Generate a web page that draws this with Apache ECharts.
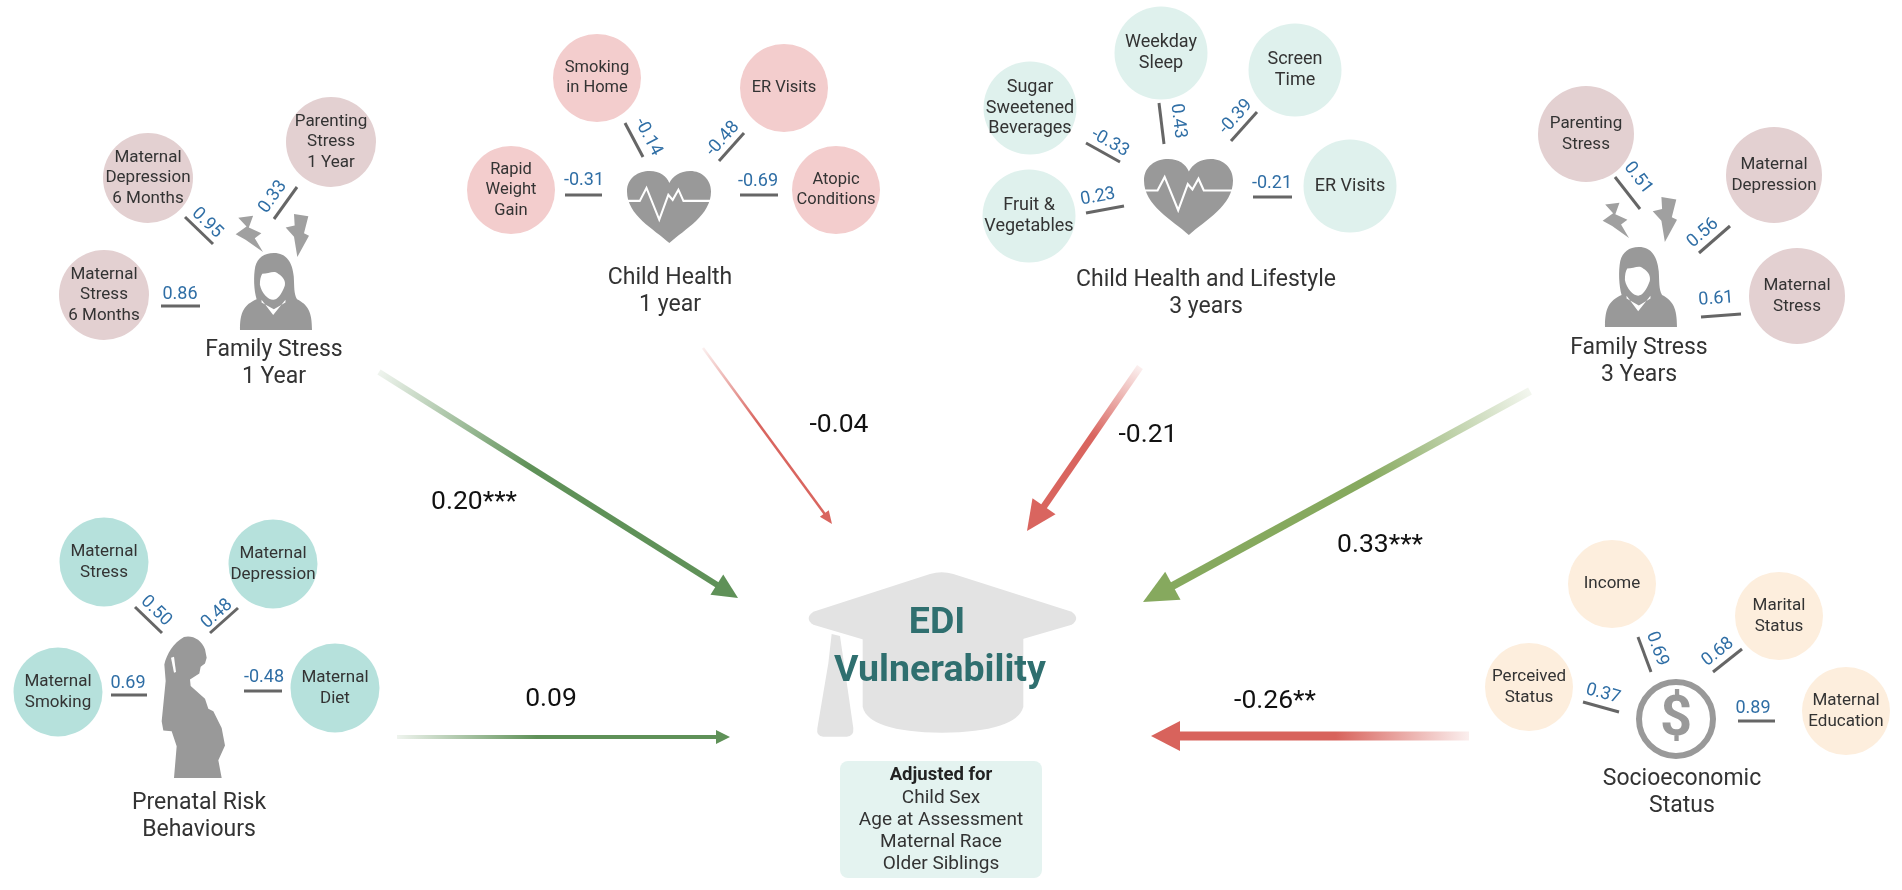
<!DOCTYPE html>
<html>
<head>
<meta charset="utf-8">
<title>EDI Vulnerability</title>
<script src="https://cdn.jsdelivr.net/npm/echarts@6/dist/echarts.min.js"></script>
<style>
    html, body { margin: 0; padding: 0; background: #fff; }
    #main { width: 1902px; height: 890px; }
</style>
</head>
<body>
<div id="main"></div>
<script>
// values
var familyStress1Items = ['Maternal\nStress\n6 Months', 'Maternal\nDepression\n6 Months', 'Parenting\nStress\n1 Year'];
var familyStress1Loadings = [0.86, 0.95, 0.33];
var childHealthItems = ['Rapid\nWeight\nGain', 'Smoking\nin Home', 'ER Visits', 'Atopic\nConditions'];
var childHealthLoadings = [-0.31, -0.14, -0.48, -0.69];
var lifestyleItems = ['Fruit &\nVegetables', 'Sugar\nSweetened\nBeverages', 'Weekday\nSleep', 'Screen\nTime', 'ER Visits'];
var lifestyleLoadings = [0.23, -0.33, 0.43, -0.39, -0.21];
var familyStress3Items = ['Parenting\nStress', 'Maternal\nDepression', 'Maternal\nStress'];
var familyStress3Loadings = [0.51, 0.56, 0.61];
var prenatalItems = ['Maternal\nStress', 'Maternal\nDepression', 'Maternal\nSmoking', 'Maternal\nDiet'];
var prenatalLoadings = [0.50, 0.48, 0.69, -0.48];
var sesItems = ['Income', 'Marital\nStatus', 'Perceived\nStatus', 'Maternal\nEducation'];
var sesLoadings = [0.69, 0.68, 0.37, 0.89];

var groupTitles = ['Family Stress\n1 Year', 'Child Health\n1 year', 'Child Health and Lifestyle\n3 years', 'Family Stress\n3 Years', 'Prenatal Risk\nBehaviours', 'Socioeconomic\nStatus'];
var pathLabels = ['0.20***', '-0.04', '-0.21', '0.33***', '0.09', '-0.26**'];
var adjustedFor = ['Child Sex', 'Age at Assessment', 'Maternal Race', 'Older Siblings'];

// layout of the diagram, in the 1902x890 axis space
var W = 1902, H = 890;
var groupLayouts = [
    {
        items: familyStress1Items, loadings: familyStress1Loadings, color: '#e3d0d1', size: 90, font: 17,
        nodes: [[104, 295], [148, 178], [331, 142]],
        ticks: [[161, 306, 200, 306], [185, 217, 213, 244], [274, 219, 297, 187]],
        texts: [[180, 294], [207, 223], [273, 197]]
    },
    {
        items: childHealthItems, loadings: childHealthLoadings, color: '#f3cdcd', size: 88, font: 16.5,
        nodes: [[511, 190], [597, 78], [784, 88], [836, 190]],
        ticks: [[565, 195, 602, 195], [625, 123, 643, 157], [744, 133, 719, 161], [740, 195, 778, 195]],
        texts: [[584, 180], [648, 137], [723, 139], [758, 181]]
    },
    {
        items: lifestyleItems, loadings: lifestyleLoadings, color: '#dff1ed', size: 93, font: 18,
        nodes: [[1029, 216], [1030, 108], [1161, 53], [1295, 70], [1350, 186]],
        ticks: [[1086, 213, 1124, 206], [1086, 143, 1120, 162], [1159, 103, 1164, 144], [1257, 112, 1231, 141], [1253, 197, 1292, 197]],
        texts: [[1098, 197], [1110, 143], [1178, 121], [1236, 117], [1272, 183]]
    },
    {
        items: familyStress3Items, loadings: familyStress3Loadings, color: '#e3d0d1', size: 96, font: 17,
        nodes: [[1586, 134], [1774, 175], [1797, 296]],
        ticks: [[1615, 177, 1640, 209], [1730, 226, 1699, 253], [1701, 317, 1741, 314]],
        texts: [[1638, 178], [1703, 233], [1716, 299]]
    },
    {
        items: prenatalItems, loadings: prenatalLoadings, color: '#b6e1dc', size: 89, font: 17,
        nodes: [[104, 562], [273, 564], [58, 692], [335, 688]],
        ticks: [[135, 607, 162, 633], [238, 608, 210, 633], [111, 695, 147, 695], [244, 691, 282, 691]],
        texts: [[156, 611], [217, 614], [128, 683], [264, 677]]
    },
    {
        items: sesItems, loadings: sesLoadings, color: '#fdeedd', size: 88, font: 17,
        nodes: [[1612, 584], [1779, 616], [1529, 687], [1846, 711]],
        ticks: [[1638, 637, 1651, 672], [1742, 649, 1713, 672], [1583, 702, 1619, 712], [1738, 721, 1775, 721]],
        texts: [[1657, 649], [1718, 652], [1603, 694], [1753, 708]]
    }
];
var titleSpots = [[274, 364], [670, 292], [1206, 294], [1639, 362], [199, 817], [1682, 793]];
var pathSpots = [[474, 502], [839, 425], [1148, 435], [1380, 545], [551, 699], [1275, 701]];
var ediSpots = [[937, 624, 0], [940, 672, 0]];

// from x, from y, to x, to y, width, head length, head width, colour
var arrows = [
    [379, 372, 738, 598, 6, 25, 24, '#5f9158'],
    [703, 348, 832, 524, 2.5, 13, 11, '#d9655f'],
    [1140, 367, 1027, 531, 7, 30, 28, '#d9655f'],
    [1530, 391, 1143, 602, 8, 34, 32, '#86a95e'],
    [397, 737, 730, 737, 4, 14, 14, '#5f9158'],
    [1469, 736, 1151, 736, 9, 29, 30, '#d8635c']
];

// icon outlines and the box each goes in
var iconPaths = {
    hat: { w: 930, h: 600, layers: [
        { d: 'M70,185 L420,72 Q455,62 490,72 L845,185 Q872,205 845,224 L490,328 Q455,336 420,328 L70,224 Q42,205 70,185 Z', fill: '#e3e3e3' },
        { d: 'M218,262 L700,262 L700,470 Q680,545 455,548 Q235,545 218,470 Z', fill: '#e3e3e3' },
        { d: 'M125,252 L150,258 L190,535 Q192,560 170,560 L100,560 Q78,560 82,535 L115,340 Z', fill: '#e3e3e3' }
    ] },
    person: { w: 217, h: 230, layers: [
        { d: 'M102,0 C140,0 158,28 162,70 C164,100 162,122 172,138 C205,155 217,175 217,230 L0,230 C0,175 12,155 50,138 C42,110 40,70 46,40 C53,15 72,0 102,0 Z', fill: '#999999' },
        { d: 'M67,62 C85,62 105,50 115,62 C132,72 138,85 135,98 C125,125 112,140 100,140 C85,140 65,120 60,95 C60,80 62,70 67,62 Z', fill: '#ffffff' },
        { d: 'M65,140 L100,185 L137,140 L137,148 L102,168 L65,148 Z', fill: '#ffffff' }
    ] },
    boltLeft: { w: 85, h: 112, layers: [
        { d: 'M10,8 L55,2 L42,38 L80,55 L60,70 L85,112 L32,75 L2,58 L35,35 Z', fill: '#a0a0a0' }
    ] },
    boltRight: { w: 75, h: 127, layers: [
        { d: 'M30,0 L73,7 L60,57 L75,64 L40,127 L30,67 L5,40 L32,34 Z', fill: '#a0a0a0' }
    ] },
    heart: { w: 250, h: 212, layers: [
        { d: 'M126,212 C80,170 0,130 0,60 C0,20 33,0 68,0 C98,0 118,15 126,35 C136,15 158,0 188,0 C223,0 250,25 250,60 C250,130 173,170 126,212 Z', fill: '#999999' },
        { d: 'M0,88 L38,88 L58,50 L96,143 L123,70 L136,85 L153,55 L168,88 L250,88', stroke: '#ffffff', width: 6 }
    ] },
    pregnant: { w: 195, h: 425, layers: [
        { d: 'M72,3 C95,-4 125,10 135,40 L140,65 L135,82 L122,92 L118,112 L90,130 L92,150 L135,188 L145,218 L160,225 L185,275 L195,328 L175,372 L185,425 L42,425 L50,330 L35,285 L10,283 L5,255 L17,135 L13,85 C20,55 40,20 72,3 Z', fill: '#999999' },
        { d: 'M33,65 L42,62 L48,108 L42,110 Z', fill: '#ffffff' }
    ] }
};
// name, left, top, right, bottom
var iconBoxes = [
    ['hat', 790, 550, 1100, 750],
    ['person', 240, 253, 312, 330],
    ['boltLeft', 235, 215, 263, 252],
    ['boltRight', 284, 214, 309, 257],
    ['heart', 627, 171, 711, 243],
    ['heart', 1144, 159, 1233, 235],
    ['person', 1605, 247, 1677, 327],
    ['boltLeft', 1602, 202, 1629, 238],
    ['boltRight', 1651, 197, 1677, 242],
    ['pregnant', 160, 636, 225, 778]
];
var iconNames = iconBoxes.map(function (b) { return b[0]; });

var dollarRing = [1676, 719, 37];
var boxRect = [840, 761, 1042, 878];
var adjustTitleSpot = [941, 775];
var adjustFirstLine = 798, adjustLineGap = 22;

var FONT = 'Roboto, sans-serif';

function renderIcon(params, api) {
    var icon = iconPaths[iconNames[params.dataIndex]];
    var p0 = api.coord([api.value(0), api.value(1)]);
    var p1 = api.coord([api.value(2), api.value(3)]);
    var children = icon.layers.map(function (l) {
        return {
            type: 'path',
            shape: { pathData: l.d },
            style: l.stroke ? { fill: 'none', stroke: l.stroke, lineWidth: l.width } : { fill: l.fill }
        };
    });
    return {
        type: 'group', x: p0[0], y: p0[1],
        scaleX: (p1[0] - p0[0]) / icon.w,
        scaleY: (p1[1] - p0[1]) / icon.h,
        children: children
    };
}

function renderArrow(params, api) {
    var p0 = api.coord([api.value(0), api.value(1)]);
    var p1 = api.coord([api.value(2), api.value(3)]);
    var a = arrows[params.dataIndex];
    var len = a[5], half = a[6] / 2, color = a[7];
    var dx = p1[0] - p0[0], dy = p1[1] - p0[1];
    var d = Math.sqrt(dx * dx + dy * dy);
    var ux = dx / d, uy = dy / d;
    var bx = p1[0] - ux * len, by = p1[1] - uy * len;
    var grad = new echarts.graphic.LinearGradient(p0[0], p0[1], p1[0], p1[1], [
        { offset: 0, color: echarts.color.modifyAlpha(color, 0.1) },
        { offset: 0.42, color: color },
        { offset: 1, color: color }
    ], true);
    return {
        type: 'group',
        children: [
            {
                type: 'line',
                shape: { x1: p0[0], y1: p0[1], x2: bx + ux, y2: by + uy },
                style: { stroke: grad, lineWidth: a[4], fill: null }
            },
            {
                type: 'polygon',
                shape: { points: [[p1[0], p1[1]], [bx - uy * half, by + ux * half], [bx + uy * half, by - ux * half]] },
                style: { fill: color }
            }
        ]
    };
}

function textSeries(rows, labels, style) {
    return {
        type: 'custom', coordinateSystem: 'cartesian2d', silent: true, z: 6,
        data: rows,
        renderItem: function (params, api) {
            var p = api.coord([api.value(0), api.value(1)]);
            return {
                type: 'text', x: p[0], y: p[1],
                rotation: (api.value(2) || 0) * Math.PI / 180,
                style: {
                    text: labels[params.dataIndex], fill: style.color,
                    fontSize: style.size, fontFamily: FONT, fontWeight: style.weight || 'normal',
                    lineHeight: style.lineHeight, align: 'center', verticalAlign: 'middle'
                }
            };
        }
    };
}

// a loading's text lies along its tick
function tickAngle(t) {
    var deg = Math.atan2(t[1] - t[3], t[2] - t[0]) * 180 / Math.PI;
    if (deg > 90) deg -= 180;
    if (deg < -90) deg += 180;
    return deg;
}

var series = [];

// arrows
series.push({
    type: 'custom', coordinateSystem: 'cartesian2d', silent: true, z: 2,
    data: arrows.map(function (a) { return a.slice(0, 4); }),
    renderItem: renderArrow
});

// icons
series.push({
    type: 'custom', coordinateSystem: 'cartesian2d', silent: true, z: 3,
    data: iconBoxes.map(function (b) { return b.slice(1); }),
    renderItem: renderIcon
});

// dollar sign
series.push({
    type: 'custom', coordinateSystem: 'cartesian2d', silent: true, z: 3,
    data: [dollarRing],
    renderItem: function (params, api) {
        var p = api.coord([api.value(0), api.value(1)]);
        return {
            type: 'circle', shape: { cx: p[0], cy: p[1], r: api.value(2) },
            style: { fill: '#fff', stroke: '#999999', lineWidth: 6 }
        };
    }
});
series.push(textSeries([[dollarRing[0], dollarRing[1] + 2, 0]], ['$'], { color: '#999999', size: 56, weight: 'bold' }));

// box under the hat
series.push({
    type: 'custom', coordinateSystem: 'cartesian2d', silent: true, z: 3,
    data: [boxRect],
    renderItem: function (params, api) {
        var p0 = api.coord([api.value(0), api.value(1)]);
        var p1 = api.coord([api.value(2), api.value(3)]);
        return {
            type: 'rect',
            shape: { x: p0[0], y: p0[1], width: p1[0] - p0[0], height: p1[1] - p0[1], r: 8 },
            style: { fill: '#e4f3f0' }
        };
    }
});

// the six groups
groupLayouts.forEach(function (g) {
    series.push({
        type: 'scatter', silent: true, z: 4,
        symbol: 'circle', symbolSize: g.size,
        itemStyle: { color: g.color, opacity: 1 },
        data: g.nodes.map(function (n, i) { return { value: n, name: g.items[i] }; }),
        label: {
            show: true, position: 'inside', color: '#333333',
            fontFamily: FONT, fontSize: g.font, lineHeight: 20.5,
            formatter: function (p) { return p.name; }
        }
    });
    series.push({
        type: 'custom', coordinateSystem: 'cartesian2d', silent: true, z: 5,
        data: g.ticks,
        renderItem: function (params, api) {
            var p0 = api.coord([api.value(0), api.value(1)]);
            var p1 = api.coord([api.value(2), api.value(3)]);
            return {
                type: 'line',
                shape: { x1: p0[0], y1: p0[1], x2: p1[0], y2: p1[1] },
                style: { stroke: '#666666', lineWidth: 3 }
            };
        }
    });
    series.push(textSeries(
        g.texts.map(function (s, i) { return [s[0], s[1], tickAngle(g.ticks[i])]; }),
        g.loadings.map(function (v) { return v.toFixed(2); }),
        { color: '#2f6ea5', size: 18 }
    ));
});

series.push(textSeries(titleSpots.map(function (s) { return [s[0], s[1], 0]; }), groupTitles, { color: '#333333', size: 23, lineHeight: 27 }));
series.push(textSeries(pathSpots.map(function (s) { return [s[0], s[1], 0]; }), pathLabels, { color: '#111111', size: 26.5 }));
series.push(textSeries(ediSpots, ['EDI', 'Vulnerability'], { color: '#2f6f6f', size: 37.5, weight: 'bold' }));
series.push(textSeries([[adjustTitleSpot[0], adjustTitleSpot[1], 0]], ['Adjusted for'], { color: '#222222', size: 18.5, weight: 'bold' }));
series.push(textSeries(adjustedFor.map(function (t, i) { return [adjustTitleSpot[0], adjustFirstLine + i * adjustLineGap, 0]; }), adjustedFor, { color: '#333333', size: 19 }));

var myChart = echarts.init(document.getElementById('main'), null, { renderer: 'canvas' });
myChart.setOption({
    animation: false,
    backgroundColor: '#ffffff',
    grid: { left: 0, right: 0, top: 0, bottom: 0 },
    xAxis: { type: 'value', min: 0, max: W, show: false },
    yAxis: { type: 'value', min: 0, max: H, inverse: true, show: false },
    series: series
});
</script>
</body>
</html>
